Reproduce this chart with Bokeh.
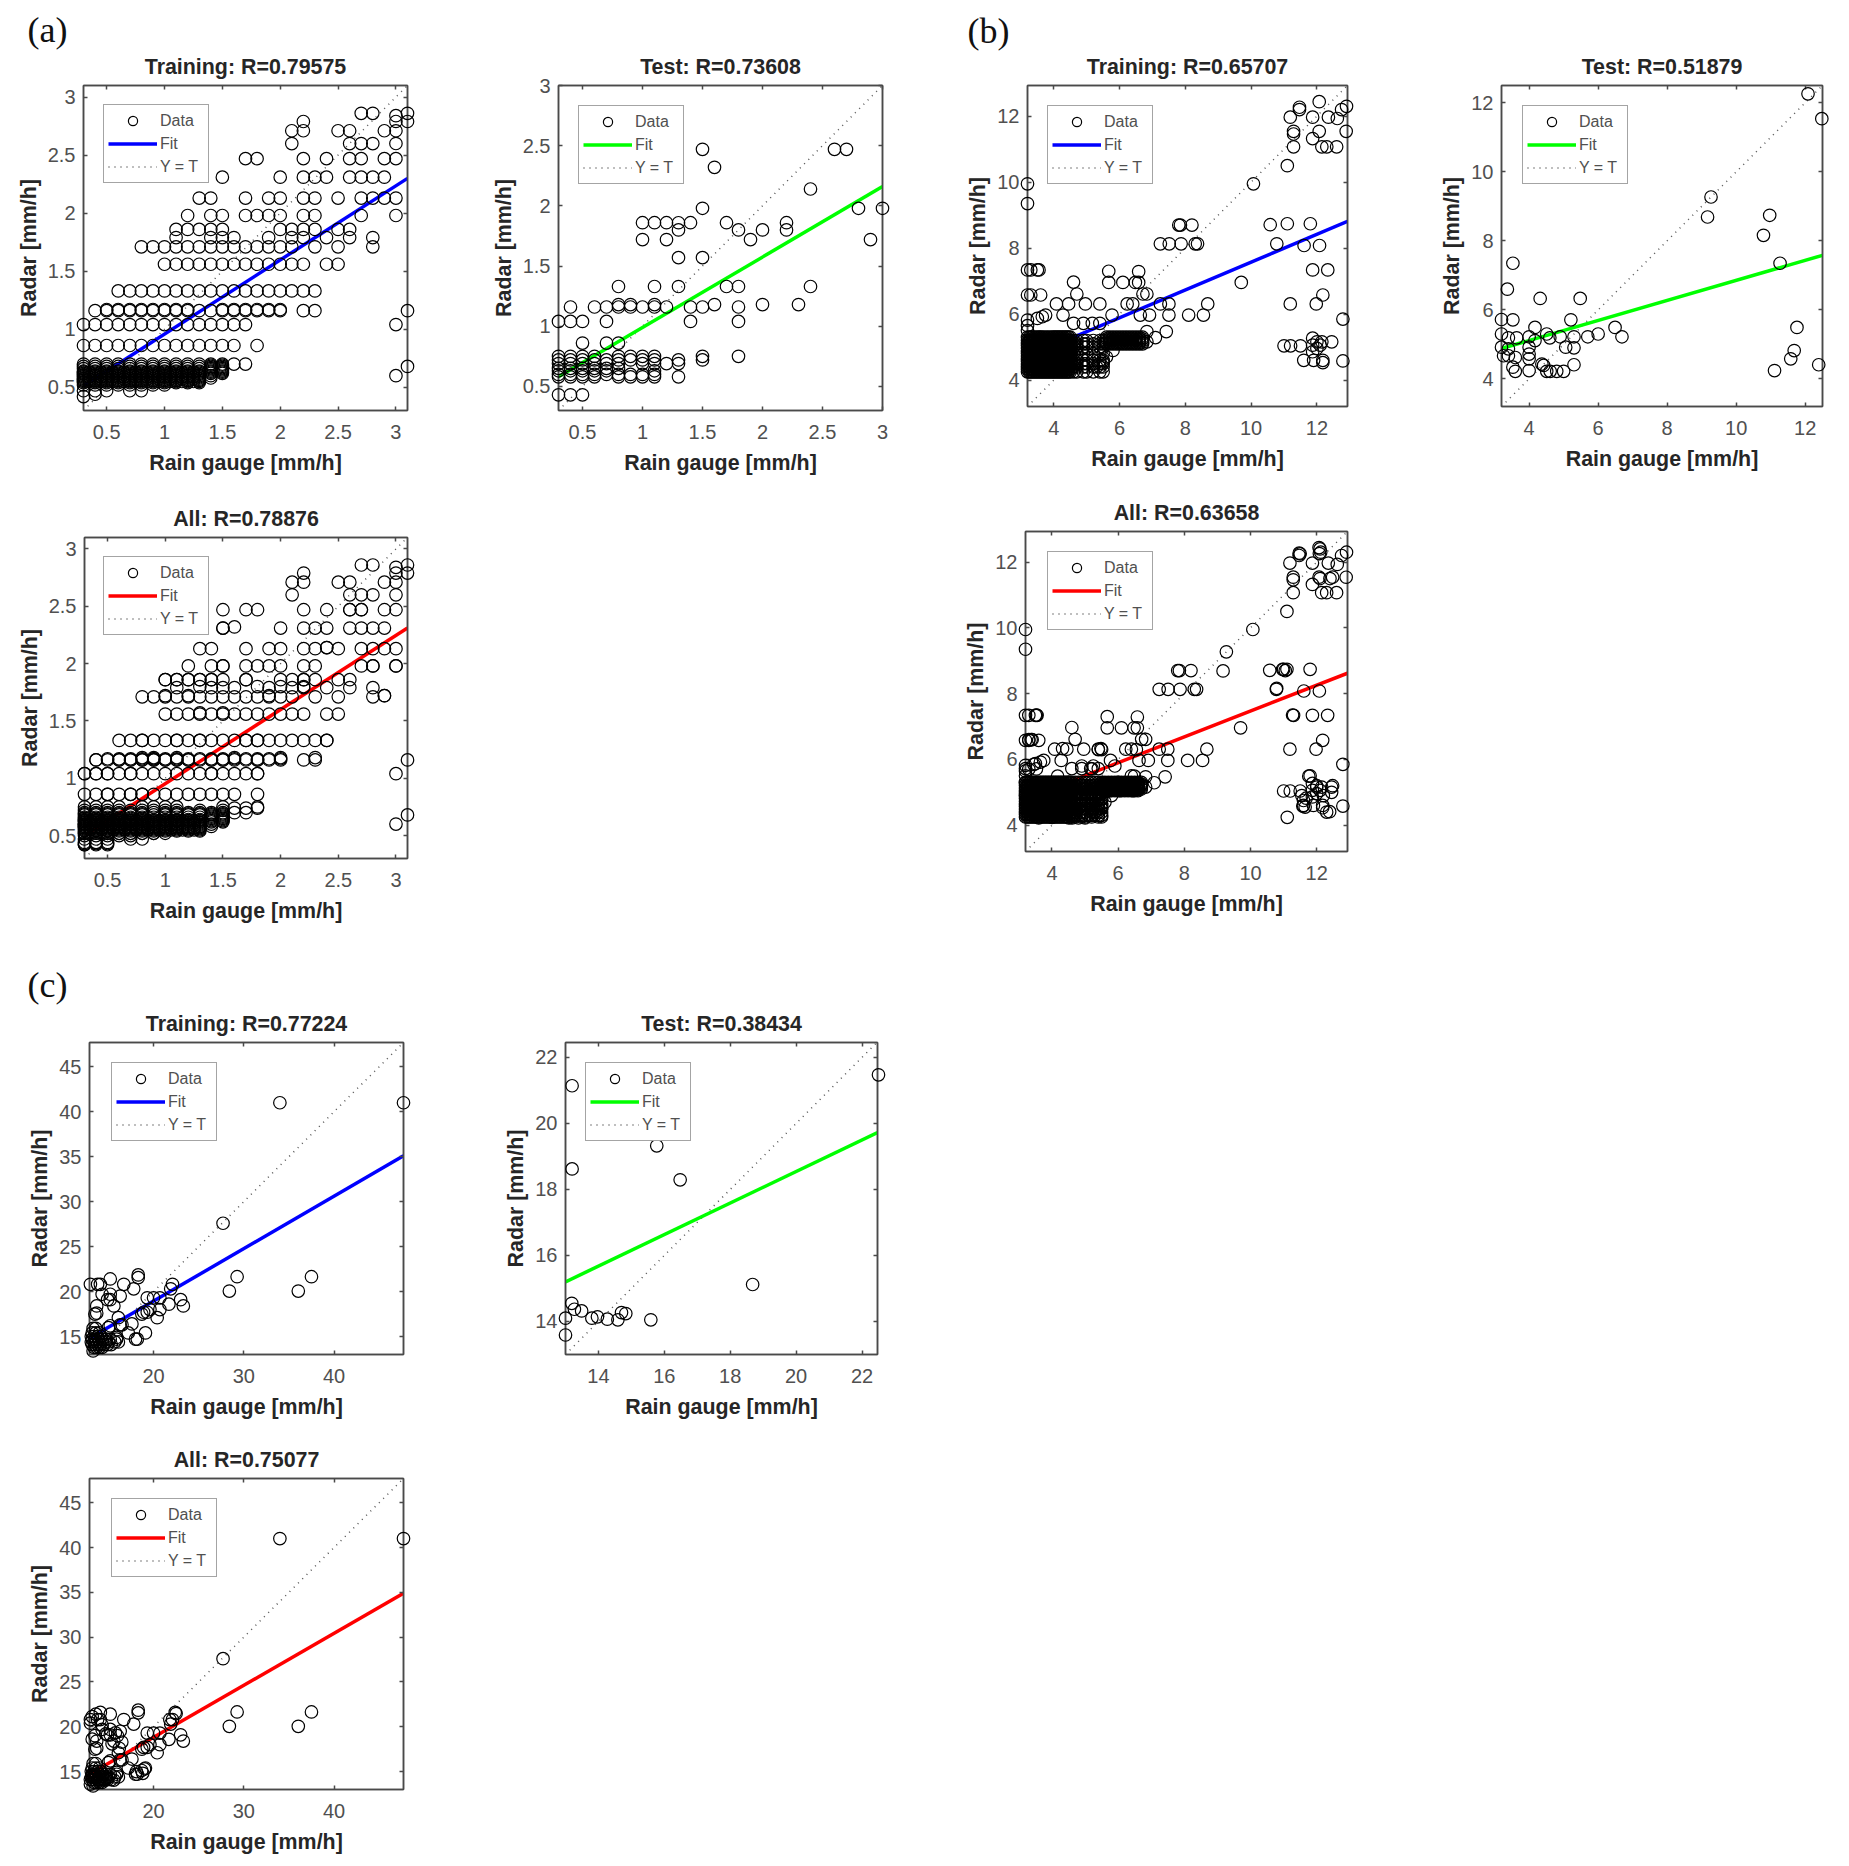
from bokeh.embed import file_html
from bokeh.resources import INLINE
from bokeh.layouts import column, row
from bokeh.models import (ColumnDataSource, FixedTicker, Legend, LegendItem,
                          LinearAxis, NumeralTickFormatter, Range1d, Spacer, Title)
from bokeh.plotting import figure

# ------------------------------------------------------------------ data
ticks_a = [0.5, 1, 1.5, 2, 2.5, 3]
ticks_b = [4, 6, 8, 10, 12]
ticks_c_x = [20, 30, 40]
ticks_c_y = [15, 20, 25, 30, 35, 40, 45]
ticks_c_test = [14, 16, 18, 20, 22]

# panel (a): radar levels and the gauge values found on each level
a_dense_levels = [0.54, 0.55, 0.56, 0.57, 0.58, 0.59, 0.6, 0.61, 0.62, 0.63, 0.64, 0.66, 0.68, 0.7]
a_dense_x = [0.3, 0.4, 0.5, 0.6, 0.7, 0.8, 0.9, 1.0, 1.1, 1.2, 1.3]
a_fill_levels = [0.55, 0.57, 0.59, 0.61, 0.63]
a_fill_x = [0.35, 0.45, 0.55, 0.65, 0.75, 0.85, 0.95, 1.05, 1.15, 1.25]
a_edge_levels = [0.58, 0.6, 0.62, 0.63, 0.64, 0.65, 0.66, 0.67, 0.68, 0.69, 0.7]
a_edge_rows = [[1.4], [1.4], [1.4, 1.5], [1.4, 1.5], [1.4, 1.5], [1.4, 1.5], [1.4, 1.5], [1.4, 1.5], [1.4, 1.5],
               [1.4, 1.5], [1.4, 1.5]]

a_train_levels = [2.86, 2.84, 2.79, 2.71, 2.60, 2.47, 2.31, 2.13, 1.98, 1.86, 1.79, 1.71, 1.56, 1.33, 1.17, 1.16,
                  1.04, 0.86, 0.7, 0.68, 0.6, 0.52, 0.47, 0.44, 0.42]
a_train_rows = [
    [2.7, 2.8, 3.1],
    [3.0],
    [2.2, 3.0, 3.1],
    [2.1, 2.2, 2.5, 2.6, 2.9, 3.0],
    [2.1, 2.6, 2.7, 2.8, 3.0],
    [1.7, 1.8, 2.2, 2.4, 2.6, 2.7, 2.9, 3.0],
    [1.5, 2.0, 2.2, 2.3, 2.4, 2.6, 2.7, 2.8, 2.9],
    [1.3, 1.4, 1.7, 1.9, 2.0, 2.2, 2.3, 2.5, 2.7, 2.8, 2.9, 3.0],
    [1.2, 1.4, 1.5, 1.7, 1.8, 1.9, 2.0, 2.2, 2.3, 2.7, 3.0],
    [1.1, 1.2, 1.3, 1.4, 1.5, 2.0, 2.1, 2.2, 2.3, 2.5, 2.6],
    [1.1, 1.4, 1.5, 1.6, 1.9, 2.1, 2.2, 2.4, 2.6, 2.8],
    [0.8, 0.9, 1.0, 1.1, 1.2, 1.3, 1.4, 1.5, 1.6, 1.7, 1.8, 1.9, 2.0, 2.1, 2.3, 2.5, 2.8],
    [1.0, 1.1, 1.2, 1.3, 1.4, 1.5, 1.6, 1.7, 1.8, 1.9, 2.0, 2.1, 2.2, 2.4, 2.5],
    [0.6, 0.7, 0.8, 0.9, 1.0, 1.1, 1.2, 1.3, 1.4, 1.5, 1.6, 1.7, 1.8, 1.9, 2.0, 2.1, 2.2, 2.3],
    [0.5, 0.6, 0.7, 0.8, 0.9, 1.0, 1.1, 1.2, 1.5, 1.6, 1.7, 1.8, 1.9, 2.0],
    [0.4, 0.5, 0.6, 0.7, 0.8, 0.9, 1.0, 1.1, 1.2, 1.3, 1.4, 1.5, 1.6, 1.7, 1.8, 1.9, 2.0, 2.2, 2.3, 3.1],
    [0.3, 0.4, 0.5, 0.6, 0.7, 0.8, 0.9, 1.0, 1.1, 1.2, 1.3, 1.4, 1.5, 1.6, 1.7, 3.0],
    [0.3, 0.4, 0.5, 0.6, 0.7, 0.8, 0.9, 1.0, 1.1, 1.2, 1.3, 1.4, 1.5, 1.6, 1.8],
    [1.6, 1.7],
    [3.1],
    [3.0],
    [0.3, 0.4, 0.5, 0.6, 0.7, 0.8, 0.9, 1.0],
    [0.3, 0.4, 0.5, 0.7, 0.8],
    [0.4],
    [0.3],
]

a_test_levels = [2.47, 2.32, 2.14, 1.98, 1.86, 1.80, 1.72, 1.57, 1.33, 1.18, 1.16, 1.04, 0.86, 0.75, 0.72, 0.69,
                 0.65, 0.63, 0.6, 0.58, 0.43]
a_test_rows = [
    [1.5, 2.6, 2.7],
    [1.6],
    [2.4],
    [1.5, 2.8, 3.0],
    [1.0, 1.1, 1.2, 1.3, 1.4, 1.7, 2.2],
    [1.3, 1.8, 2.0, 2.2],
    [1.0, 1.2, 1.9, 2.9],
    [1.3, 1.5],
    [0.8, 1.1, 1.3, 1.7, 1.8, 2.4],
    [0.8, 0.9, 1.1, 1.6, 2.0, 2.3],
    [0.4, 0.6, 0.7, 0.8, 0.9, 1.0, 1.1, 1.2, 1.4, 1.5, 1.8],
    [0.3, 0.4, 0.5, 0.7, 1.4, 1.8],
    [0.5, 0.7, 0.8],
    [0.3, 0.4, 0.5, 0.6, 0.8, 0.9, 1.0, 1.1, 1.5, 1.8],
    [0.3, 0.4, 0.5, 0.6, 0.7, 0.8, 0.9, 1.0, 1.1, 1.3, 1.5],
    [0.3, 0.4, 0.5, 0.6, 0.7, 0.8, 1.0, 1.1, 1.2, 1.3],
    [0.3, 0.4, 0.5, 0.6, 0.7, 0.8],
    [0.3, 0.4, 0.5, 0.6, 0.7, 1.1],
    [0.3, 0.4, 0.5, 0.6, 0.7, 0.8, 0.9, 1.0, 1.1],
    [0.3, 0.4, 0.5, 0.6, 0.8, 0.9, 1.0, 1.1, 1.3],
    [0.3, 0.4, 0.5],
]

a_extra_levels = [2.31, 2.14, 1.98, 1.86, 1.72, 1.33, 1.17, 1.04, 0.74, 0.52, 0.5, 0.44, 0.42]
a_extra_rows = [
    [1.5],
    [2.4],
    [2.8],
    [1.0, 1.7],
    [2.9],
    [2.4],
    [0.9, 1.3, 1.4],
    [1.8],
    [1.6, 1.7, 1.8],
    [0.3, 0.4, 0.5, 0.6, 0.7, 0.8, 0.9],
    [0.3, 0.4, 0.5, 0.6, 0.7],
    [0.3, 0.4, 0.5],
    [0.3, 0.4, 0.5],
]

# panel (b): dense block and rows of gauge values
b_dense_levels = [4.25, 4.33, 4.41, 4.49, 4.57, 4.65, 4.73, 4.81, 4.89, 4.97, 5.05, 5.13, 5.21, 5.3]
b_dense_x = [3.2, 3.25, 3.3, 3.35, 3.4, 3.45, 3.5, 3.55, 3.6, 3.65, 3.7, 3.75, 3.8, 3.85, 3.9, 3.95,
             4.0, 4.05, 4.1, 4.15, 4.2, 4.25, 4.3, 4.35, 4.4, 4.45, 4.5]
b_sparse_levels = [4.25, 4.4, 4.5, 4.6, 4.8, 5.0, 5.1, 5.2]
b_sparse_x = [4.6, 4.7, 4.9, 5.0, 5.2, 5.4, 5.5]
b_row_levels = [5.1, 5.15, 5.2, 5.25, 5.3]
b_row_x = [5.6, 5.7, 5.8, 5.9, 6.0, 6.1, 6.2, 6.3, 6.4, 6.5, 6.6, 6.7]

b_train_x = [12.07, 11.47, 11.47, 11.19, 11.87, 12.35, 12.62, 12.75, 12.9, 12.89, 12.07, 11.29, 11.29, 11.29, 11.87,
             12.15, 12.3, 12.6, 11.1, 10.07, 3.2, 3.2, 7.8, 7.85, 8.2, 7.24, 7.51, 7.87, 8.3, 8.37, 10.58, 11.1, 11.8,
             10.78, 11.61, 12.08, 11.87, 12.33, 9.7, 12.18, 11.98, 11.19, 12.79, 8.68, 8.55, 8.1, 7.5, 7.5, 7.24,
             3.2, 3.3, 3.5, 3.55, 3.2, 3.3, 3.6, 4.6, 4.7, 5.67, 5.67, 6.1, 6.58, 6.48, 6.58, 6.71, 6.83,
             4.08, 4.45, 4.96, 5.4, 4.28, 3.75, 3.65, 3.5, 3.2, 5.77, 6.23, 6.4, 6.63, 6.91, 4.6, 4.9, 5.17, 5.4,
             6.83, 7.42, 7.09, 6.83, 11.0, 11.2, 11.5, 12.45, 11.87, 11.87, 12.0, 12.1, 11.87, 12.0, 12.15,
             11.6, 11.9, 12.18, 12.18, 12.79, 3.2, 3.2, 5.8, 5.5, 5.3, 5.6]
b_train_y = [12.44, 12.27, 12.2, 11.97, 11.97, 11.97, 11.93, 12.2, 12.3, 11.54, 11.54, 11.54, 11.46, 11.07, 11.32,
             11.07, 11.07, 11.07, 10.5, 9.95, 9.95, 9.35, 8.7, 8.7, 8.7, 8.13, 8.13, 8.13, 8.13, 8.13, 8.71, 8.74, 8.74,
             8.13, 8.08, 8.08, 7.34, 7.34, 6.96, 6.58, 6.31, 6.31, 5.85, 6.31, 5.97, 5.97, 6.31, 5.97, 6.31,
             7.34, 7.34, 7.34, 7.34, 6.58, 6.58, 6.58, 6.97, 6.61, 7.3, 6.96, 6.96, 7.29, 6.96, 6.96, 6.61, 6.61,
             6.31, 6.31, 6.31, 6.31, 5.97, 5.97, 5.92, 5.87, 5.82, 5.97, 6.31, 6.31, 5.97, 5.97, 5.72, 5.72, 5.72, 5.72,
             5.47, 5.47, 5.29, 5.16, 5.04, 5.04, 5.04, 5.16, 5.27, 5.06, 5.16, 5.06, 4.86, 4.96, 5.16,
             4.6, 4.6, 4.6, 4.53, 4.58, 5.5, 5.65, 4.9, 4.55, 4.4, 4.7]

b_test_x = [12.08, 12.48, 9.27, 9.17, 10.97, 10.79, 11.27, 3.53, 3.37, 4.32, 5.48, 3.2, 3.53, 5.21, 4.17, 6.49, 6.69,
            6.0, 5.7, 11.76, 11.68, 11.58, 11.11, 12.39, 3.2, 3.4, 3.64, 4.0, 4.17, 4.51, 4.6, 4.9, 5.3, 3.2, 5.06,
            5.3, 4.0, 4.0, 4.0, 3.26, 3.4, 3.6, 3.4, 3.53, 3.6, 4.0, 4.37, 4.42, 4.51, 4.61, 4.8, 5.0, 5.3]
b_test_y = [12.26, 11.54, 9.27, 8.69, 8.74, 8.16, 7.35, 7.35, 6.6, 6.33, 6.33, 5.72, 5.71, 5.71, 5.49, 5.49, 5.22,
            5.3, 5.22, 5.49, 4.82, 4.58, 4.24, 4.41, 5.3, 5.19, 5.19, 5.22, 5.11, 5.3, 5.19, 5.22, 5.22, 4.92, 4.92,
            4.9, 4.92, 4.72, 4.58, 4.67, 4.67, 4.62, 4.87, 4.34, 4.22, 4.24, 4.43, 4.39, 4.22, 4.22, 4.22, 4.22, 4.41]

b_extra_x = [11.0, 11.05, 11.3, 12.1, 12.12, 11.5, 12.48, 12.1, 12.4, 5.5, 5.4, 5.9, 4.9, 5.25, 3.3, 3.4, 12.0, 12.2,
             11.6, 11.65, 11.8, 12.3, 11.55, 12.45, 3.3, 3.45, 6.4, 6.55]
b_extra_y = [8.74, 8.7, 7.34, 12.4, 12.3, 12.25, 5.2, 11.5, 11.5, 6.3, 6.3, 5.8, 5.8, 5.8, 6.6, 6.6, 5.2, 4.9,
             4.75, 4.55, 5.5, 4.4, 4.9, 5.0, 5.7, 5.85, 5.5, 6.3]
b_extra_levels = [4.3, 4.5, 4.65, 4.8, 4.95, 5.1, 5.2, 5.3]
b_extra_x_row = [4.55, 4.6, 4.7, 4.8, 4.9, 5.0, 5.1, 5.2, 5.3, 5.4, 5.5]
b_extra_levels_2 = [5.05, 5.08, 5.12, 5.18, 5.22, 5.28]
b_extra_x_row_2 = [5.5, 5.55, 5.6, 5.65, 5.7, 5.75, 5.8, 5.9, 6.0, 6.05, 6.1, 6.2, 6.3, 6.4, 6.45, 6.5, 6.6]

# panel (c)
c_dense_levels = [13.8, 14.1, 14.4, 14.7, 15.0, 15.4, 15.9]
c_dense_rows = [
    [13.4, 13.7, 14.0, 14.3],
    [13.2, 13.5, 13.8, 14.1, 14.5, 14.9, 15.3],
    [13.1, 13.4, 13.7, 14.0, 14.3, 14.7, 15.0, 15.7, 16.1],
    [13.2, 13.5, 13.9, 14.3, 14.7, 15.2, 15.9],
    [13.1, 13.4, 13.8, 14.2],
    [13.2, 13.6, 14.0],
    [13.3, 13.6],
]
c_train_x = [47.7, 34.0, 27.7, 29.26, 28.4, 36.04, 37.5, 18.3, 18.3, 13.0, 13.8, 14.1, 15.2, 16.7, 17.8, 22.1, 21.9,
             19.3, 20.0, 20.7, 14.3, 15.2, 15.2, 14.9, 16.3, 15.6, 13.7, 13.5, 13.7, 23.0, 23.3, 21.7, 20.7, 20.4,
             19.6, 18.9, 19.3, 18.7, 16.1, 17.6, 16.5, 16.3, 15.2, 15.0, 17.2, 19.1, 18.0, 18.2, 15.9, 13.3]
c_train_y = [41.0, 41.0, 27.6, 21.65, 20.05, 20.05, 21.65, 21.85, 21.55, 20.8, 20.8, 20.8, 21.4, 20.8, 20.3, 20.8, 20.3,
             19.3, 19.3, 19.3, 19.7, 19.7, 19.1, 19.1, 19.5, 18.4, 18.4, 17.5, 17.6, 19.1, 18.4, 18.6, 18.0, 17.1,
             18.0, 17.7, 17.7, 17.5, 17.1, 16.4, 16.3, 16.3, 16.2, 16.0, 15.4, 15.4, 14.7, 14.7, 14.9, 13.4]

c_test_x = [22.5, 13.2, 13.2, 15.77, 16.48, 18.68, 13.19, 13.27, 13.49, 13.0, 13.0, 13.8, 13.97, 14.27, 14.59, 14.7,
            14.83, 15.59]
c_test_y = [21.47, 21.14, 18.62, 19.32, 18.29, 15.12, 14.55, 14.37, 14.32, 14.1, 13.59, 14.1, 14.14, 14.07, 14.05,
            14.27, 14.24, 14.05]

c_extra_x = [13.6, 14.1, 13.0, 14.3, 22.4, 21.8, 18.1, 19.0, 18.8, 14.7, 15.4, 16.2, 16.0, 13.5]
c_extra_y = [21.4, 21.6, 20.4, 20.2, 21.6, 20.8, 15.0, 15.3, 14.8, 19.2, 18.1, 17.6, 19.0, 19.0]

# fits (end points)
fit_a_train = [0.51, 2.30]
fit_a_test = [0.58, 2.16]
fit_a_all = [0.50, 2.31]
fit_b_train = [4.71, 8.81]
fit_b_test = [4.88, 7.58]
fit_b_all = [4.80, 8.62]
fit_c_train = [14.8, 35.1]
fit_c_test = [15.2, 19.72]
fit_c_all = [14.7, 34.9]


def expand(levels, rows):
    xs, ys = [], []
    for level, r in zip(levels, rows):
        xs += r
        ys += [level] * len(r)
    return xs, ys


def same(levels, xs):
    return expand(levels, [xs] * len(levels))


def join(*parts):
    xs, ys = [], []
    for a, b in parts:
        xs += list(a)
        ys += list(b)
    return xs, ys


a_dense = join(same(a_dense_levels, a_dense_x), same(a_fill_levels, a_fill_x), expand(a_edge_levels, a_edge_rows))
a_train = join(a_dense, expand(a_train_levels, a_train_rows))
a_test = expand(a_test_levels, a_test_rows)
a_all = join(a_train, a_test, expand(a_extra_levels, a_extra_rows))

b_train = join(same(b_dense_levels, b_dense_x), same(b_sparse_levels, b_sparse_x), same(b_row_levels, b_row_x),
               (b_train_x, b_train_y))
b_test = (b_test_x, b_test_y)
b_all = join(b_train, b_test, (b_extra_x, b_extra_y), same(b_extra_levels, b_extra_x_row),
             same(b_extra_levels_2, b_extra_x_row_2))

c_train = join(expand(c_dense_levels, c_dense_rows), (c_train_x, c_train_y))
c_test = (c_test_x, c_test_y)
c_all = join(c_train, c_test, (c_extra_x, c_extra_y))

# ------------------------------------------------------------------ drawing
AX = "#4a4a4a"
TXT = "#262626"
TICK = "#505050"
LEGEND_H = 79


def panel(title, data, fit, color, xr, yr, xticks, yticks, box, legend_at):
    """box = (left, frame w, width, top, frame h, bottom)"""
    L, fw, w, T, fh, B = box
    h = T + fh + B
    p = figure(width=w, height=h, output_backend="svg", toolbar_location=None, title=None,
               x_range=Range1d(*xr), y_range=Range1d(*yr),
               min_border_left=L, min_border_right=w - L - fw, min_border_top=T,
               min_border_bottom=B, x_axis_type=None, y_axis_type=None)
    p.background_fill_color = "white"
    p.border_fill_color = None
    p.outline_line_color = AX
    p.outline_line_width = 1.5
    p.grid.visible = False

    fmt = NumeralTickFormatter(format="0.[0]")
    for side, ticks in (("below", xticks), ("left", yticks), ("above", xticks), ("right", yticks)):
        ax = LinearAxis(ticker=FixedTicker(ticks=ticks), formatter=fmt)
        ax.major_tick_in = 4
        ax.major_tick_out = 0
        ax.minor_tick_line_color = None
        ax.axis_line_color = AX
        ax.axis_line_width = 1.5
        ax.major_tick_line_color = AX
        ax.major_tick_line_width = 1.5
        if side in ("below", "left"):
            ax.major_label_text_font = "Liberation Sans"
            ax.major_label_text_font_size = "20px"
            ax.major_label_text_color = TICK
            ax.axis_label_text_font = "Liberation Sans"
            ax.axis_label_text_font_style = "bold"
            ax.axis_label_text_font_size = "21.4px"
            ax.axis_label_text_color = TXT
            ax.major_label_standoff = 14 if side == "below" else 8
            ax.axis_label_standoff = 9 if side == "below" else 4
            ax.axis_label = "Rain gauge [mm/h]" if side == "below" else "Radar [mm/h]"
        else:
            ax.major_label_text_color = None
            ax.major_label_text_font_size = "1px"
            ax.major_label_standoff = 0
        p.add_layout(ax, side)

    p.add_layout(Title(text=title, align="center", text_font="Liberation Sans", text_font_style="bold",
                       text_font_size="21.4px", text_color=TXT, standoff=13), "above")

    low = xr[0]
    top = min(xr[1], yr[1])
    r_yt = p.line([low, top], [low, top], line_color="#555555", line_width=1.5, line_dash="1 5")
    r_fit = p.line(list(xr), fit, line_color=color, line_width=3.5)
    src = ColumnDataSource(dict(x=data[0], y=data[1]))
    r_data = p.scatter("x", "y", source=src, marker="circle", size=12.5, fill_color=None,
                       line_color="black", line_width=1.2, level="overlay")

    dx, dy = legend_at
    lg = Legend(items=[LegendItem(label="Data", renderers=[r_data]),
                       LegendItem(label="Fit", renderers=[r_fit]),
                       LegendItem(label="Y = T", renderers=[r_yt])],
                location=(dx, fh - dy - LEGEND_H), margin=0, padding=4, spacing=0,
                glyph_width=49, glyph_height=23, label_height=23, label_width=44, label_standoff=3,
                label_text_font="Liberation Sans", label_text_font_size="16px", label_text_color=TICK,
                border_line_color=AX, border_line_width=1.5, background_fill_color="white",
                background_fill_alpha=1.0, level="overlay")
    p.add_layout(lg, "center")
    return p


def panel_label(p, text, box, page_x, origin_x, standoff):
    L = box[0]
    p.add_layout(Title(text=text, align="left", offset=page_x - (origin_x + L),
                       text_font="Liberation Serif", text_font_style="normal", text_font_size="36px",
                       text_color="#111111", standoff=standoff), "above")


AR = (0.3, 3.1)
BR = (3.2, 12.93)
CR = (12.9, 47.7)
CRY = (13.0, 47.7)
AT = (0.3, 3.0)
BT = (3.2, 12.5)

box1 = (83, 324, 480, 85, 325, 80)
box2 = (78, 324, 470, 85, 325, 80)
box3 = (77, 320, 475, 85, 321, 80)
box4 = (76, 321, 415, 85, 321, 80)
p1 = panel("Training: R=0.79575", a_train, fit_a_train, "#0000ff", AR, AR, ticks_a, ticks_a, box1, (20, 19))
p2 = panel("Test: R=0.73608", a_test, fit_a_test, "#00ff00", AT, AT, ticks_a, ticks_a, box2, (20, 20))
p3 = panel("Training: R=0.65707", b_train, fit_b_train, "#0000ff", BR, BR, ticks_b, ticks_b, box3, (20, 20))
p4 = panel("Test: R=0.51879", b_test, fit_b_test, "#00ff00", BT, BT, ticks_b, ticks_b, box4, (21, 20))
panel_label(p1, "(a)", box1, 27, 0, -6)
panel_label(p3, "(b)", box3, 967, 950, -9)

box5 = (84, 323, 950, 41, 321, 99)
box6 = (75, 322, 407, 41, 320, 99)
p5 = panel("All: R=0.78876", a_all, fit_a_all, "#ff0000", AR, AR, ticks_a, ticks_a, box5, (19, 19))
p6 = panel("All: R=0.63658", b_all, fit_b_all, "#ff0000", BR, BR, ticks_b, ticks_b, box6, (22, 20))

box7 = (89, 314, 480, 85, 312, 82)
box8 = (85, 312, 417, 85, 312, 82)
p7 = panel("Training: R=0.77224", c_train, fit_c_train, "#0000ff", CR, CRY, ticks_c_x, ticks_c_y, box7, (22, 20))
p8 = panel("Test: R=0.38434", c_test, fit_c_test, "#00ff00", (13.0, 22.47), (13.0, 22.45), ticks_c_test, ticks_c_test, box8, (20, 20))
panel_label(p7, "(c)", box7, 27, 0, -2)

box9 = (89, 314, 480, 42, 311, 69)
p9 = panel("All: R=0.75077", c_all, fit_c_all, "#ff0000", CR, CRY, ticks_c_x, ticks_c_y, box9, (22, 20))

page = column(row(p1, p2, p3, p4, spacing=0),
              row(column(Spacer(height=6), p5, spacing=0), p6, spacing=0),
              row(p7, p8, spacing=0), p9, spacing=0)
open("out.html", "w").write(file_html(page, INLINE))
